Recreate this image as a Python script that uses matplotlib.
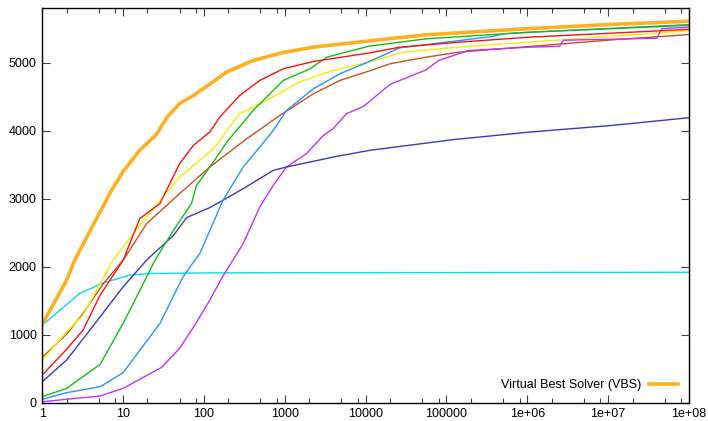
import numpy as np
import matplotlib.pyplot as plt
from matplotlib.ticker import FixedLocator, NullFormatter

plt.rcParams['font.family'] = ['Liberation Sans', 'DejaVu Sans']

# solved instances vs. time
vbs_x = [1, 2, 2.5, 4, 7, 10, 16, 26, 35, 50, 75, 90, 120, 190, 400, 950, 2300, 11000, 56000, 1e6, 1e7, 1e8]
vbs_y = [1150, 1800, 2090, 2550, 3100, 3400, 3710, 3950, 4200, 4400, 4520, 4590, 4690, 4860, 5030, 5150, 5230, 5320, 5410, 5500, 5560, 5610]

cyan_x = [1, 2.9, 5.7, 12, 21, 118, 1e4, 1e6, 1e8]
cyan_y = [1140, 1606, 1762, 1875, 1900, 1909, 1912, 1915, 1918]

brown_x = [1, 2, 3.2, 5.7, 10, 19.6, 50, 118, 338, 870, 2260, 4800, 11200, 20000, 56000, 1.4e5, 1.05e6, 1.13e7, 1e8]
brown_y = [667, 1009, 1313, 1753, 2095, 2634, 3075, 3466, 3882, 4225, 4543, 4739, 4880, 4984, 5081, 5154, 5238, 5336, 5414]

yellow_x = [1, 2, 3.2, 7.2, 10, 19.5, 50, 118, 143, 276, 595, 1500, 3950, 11200, 29000, 1.4e5, 1.05e6, 1e8]
yellow_y = [627, 1043, 1288, 2060, 2291, 2731, 3319, 3686, 3790, 4250, 4445, 4714, 4885, 5010, 5154, 5228, 5301, 5470]

red_x = [1, 2, 3.2, 5.2, 10, 16.1, 28.5, 50, 74, 118, 157, 276, 490, 956, 2260, 11200, 26500, 1.4e5, 1.05e6, 1e8]
red_y = [407, 784, 1068, 1582, 2095, 2708, 2928, 3515, 3784, 3980, 4200, 4518, 4739, 4910, 5018, 5144, 5228, 5301, 5375, 5490]

green_x = [1, 2, 5.2, 10, 14.7, 24.8, 42, 70, 81, 118, 199, 407, 956, 2050, 3300, 11200, 56000, 3.7e5, 1.05e6, 1e8]
green_y = [88, 211, 564, 1166, 1557, 2095, 2536, 2928, 3197, 3466, 3857, 4298, 4739, 4910, 5081, 5245, 5351, 5414, 5448, 5550]

blue_x = [1, 2, 5.2, 10, 28.5, 55, 77, 89, 172, 306, 490, 720, 1050, 2260, 4800, 11200, 26500, 3.7e5, 5e5, 1.05e6, 1e8]
blue_y = [50, 147, 235, 441, 1166, 1850, 2095, 2194, 2977, 3466, 3759, 4004, 4298, 4617, 4837, 5020, 5219, 5385, 5424, 5448, 5560]

navy_x = [1, 2, 5.2, 10, 20, 30, 42, 61, 118, 172, 306, 720, 1050, 3950, 11200, 1.2e5, 1.05e6, 1.13e7, 1e8]
navy_y = [308, 627, 1263, 1704, 2110, 2300, 2460, 2722, 2869, 2977, 3148, 3416, 3466, 3612, 3711, 3868, 3979, 4078, 4191]

purple_x = [1, 5.2, 10, 30, 50, 77, 118, 165, 306, 490, 720, 1050, 1850, 3000, 3950, 5800, 9400, 20000, 56000, 80000, 1.85e5, 1.05e6, 2.5e6, 2.8e6, 4e7, 4.6e7, 1e8]
purple_y = [15, 98, 211, 520, 799, 1141, 1508, 1827, 2341, 2878, 3197, 3466, 3662, 3931, 4029, 4250, 4357, 4680, 4895, 5032, 5179, 5228, 5240, 5330, 5360, 5500, 5522]

fig = plt.figure(figsize=(7.08, 4.21), dpi=100)
ax = fig.add_axes([0.0597, 0.0435, 0.9135, 0.9368])

ax.plot(cyan_x, cyan_y, '-', color='#00e0e8', lw=1.0)
ax.plot(brown_x, brown_y, '-', color='#c8501e', lw=1.0)
ax.plot(yellow_x, yellow_y, '-', color='#f0f000', lw=1.0)
ax.plot(purple_x, purple_y, '-', color='#c030ff', lw=1.0)
ax.plot(navy_x, navy_y, '-', color='#3a3ac0', lw=1.0)
ax.plot(blue_x, blue_y, '-', color='#2a90ff', lw=1.0)
ax.plot(green_x, green_y, '-', color='#10c010', lw=1.0)
ax.plot(red_x, red_y, '-', color='#ff1010', lw=1.0)
ax.plot(vbs_x, vbs_y, '-', color='#ffb020', lw=2.6, label='Virtual Best Solver (VBS)')

ax.set_xscale('log')
ax.set_xlim(1, 1e8)
ax.set_ylim(0, 5800)

xt = [10.0**k for k in range(9)]
ax.xaxis.set_major_locator(FixedLocator(xt))
ax.set_xticklabels(['1', '10', '100', '1000', '10000', '100000', '1e+06', '1e+07', '1e+08'])
minor = [m * 10.0**k for k in range(8) for m in (2, 5, 8)]
ax.xaxis.set_minor_locator(FixedLocator(minor))
ax.xaxis.set_minor_formatter(NullFormatter())
ax.set_yticks([0, 1000, 2000, 3000, 4000, 5000])
ax.yaxis.set_minor_locator(FixedLocator([]))

ax.tick_params(which='both', direction='in', top=True, right=True, labelsize=9,
               color='#404040', pad=4)
ax.tick_params(which='major', length=6, width=0.8)
ax.tick_params(which='minor', length=3.5, width=0.8)
for s in ax.spines.values():
    s.set_linewidth(1.0)

leg = ax.legend(loc='lower right', frameon=False, fontsize=9, markerfirst=False,
                handlelength=2.3, handletextpad=0.6, borderaxespad=0.5)

fig.savefig('out.png', dpi=100)
